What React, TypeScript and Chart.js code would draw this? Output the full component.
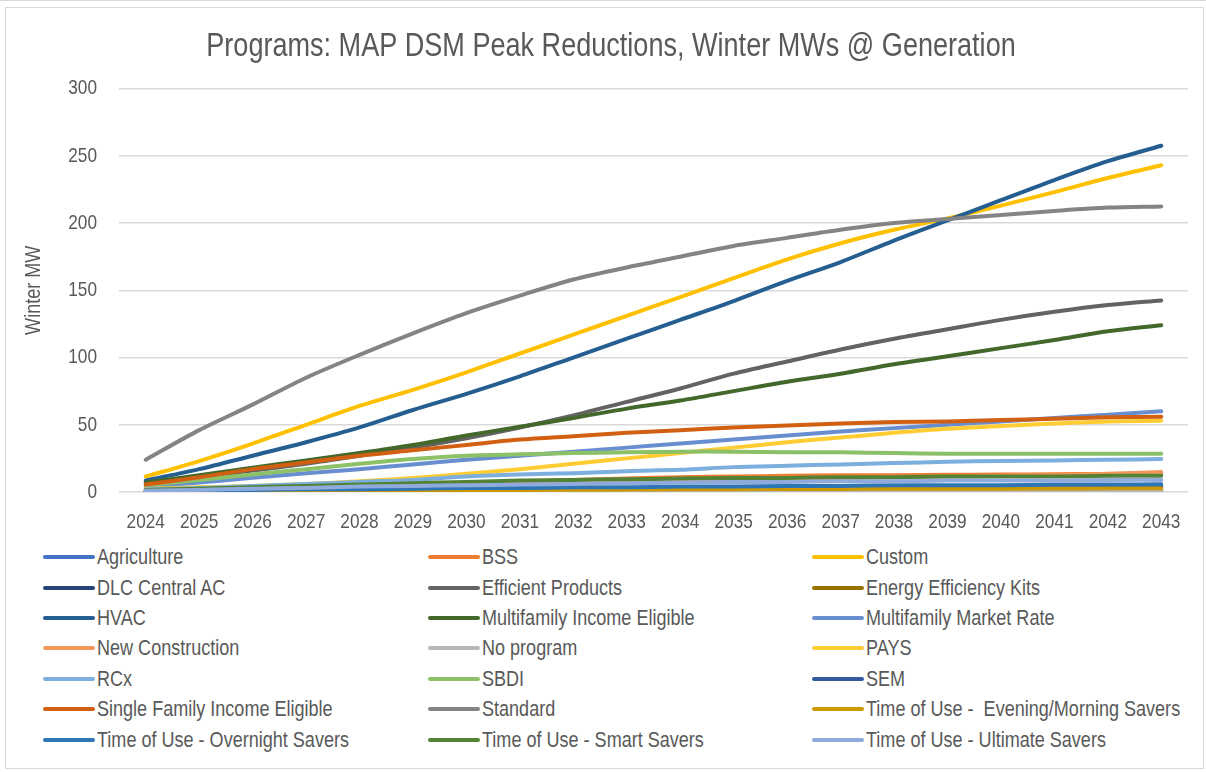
import React, { useEffect, useRef } from "react";
import { Chart, registerables } from "chart.js";

Chart.register(...registerables);

const FONT = "'Liberation Sans', Arial, sans-serif";
const TEXT = "#595959";
const NARROW = 0.82;

const chartTitle = "Programs: MAP DSM Peak Reductions, Winter MWs @ Generation";
const yAxisTitle = "Winter MW";
const yTicks = [0, 50, 100, 150, 200, 250, 300];

const years = [
  "2024", "2025", "2026", "2027", "2028", "2029", "2030", "2031", "2032", "2033",
  "2034", "2035", "2036", "2037", "2038", "2039", "2040", "2041", "2042", "2043",
];

const agriculture = [0.5, 0.8, 1, 1.2, 1.5, 1.7, 1.9, 2.1, 2.3, 2.5, 2.7, 2.8, 3, 3.1, 3.2, 3.3, 3.4, 3.5, 3.6, 3.7];
const bss = [1.5, 2.5, 3, 3.5, 4, 5, 6, 7.5, 9, 10, 11, 11.5, 12, 12.5, 12.5, 12.8, 13, 13.2, 13.4, 13.6];
const custom = [11.5, 23, 36, 50, 64, 76, 89, 103, 117, 131, 145, 159, 173, 185, 195, 203.5, 213, 223, 233.5, 243];
const dlcCentralAC = [0, 0, 0, 0, 0, 0, 0, 0, 0, 0, 0, 0, 0, 0, 0, 0, 0, 0, 0, 0];
const efficientProducts = [6.5, 11, 16, 21, 27, 33, 40, 48, 57, 67, 77, 88, 97, 106, 114, 121, 128, 134, 139, 142.5];
const energyEfficiencyKits = [0.4, 0.5, 0.6, 0.7, 0.8, 0.8, 0.9, 0.9, 1, 1, 1, 1, 1, 1, 1, 1, 1, 1, 1, 1];
const hvac = [8.5, 17, 27, 37, 48, 61, 73, 86, 100, 114, 128, 142, 157, 171, 187, 202, 217, 232, 246, 257.5];
const mfIncomeEligible = [7, 12.5, 18, 23.5, 29, 35, 42, 48.5, 55, 62, 68, 75, 82, 88, 95, 101, 107, 113, 119.5, 124];
const mfMarketRate = [4, 7, 10.5, 14, 17, 20.5, 24, 27, 30, 33, 36, 39, 42, 45, 47.5, 50, 52.5, 55, 57.5, 60];
const newConstruction = [1, 1.5, 2, 2.5, 3, 3.5, 4, 5, 6, 7, 8, 9, 10, 10.5, 11, 11.5, 12, 12.5, 13.5, 14.8];
const noProgram = [0.5, 0.6, 0.7, 0.8, 0.8, 0.9, 0.9, 1, 1, 1, 1, 0.5, 0.3, 0.3, 0.3, 0.3, 0.3, 0.3, 0.3, 0.3];
const pays = [2.5, 3.5, 4.5, 6, 8, 10.5, 13.5, 17, 21, 25, 29, 33, 37, 40.5, 44, 47, 49, 51, 52.5, 53];
const rcx = [2, 3, 4.5, 6, 7.5, 9, 11.5, 13, 14, 15.5, 16.5, 18.5, 19.5, 20.5, 21.5, 22.5, 23, 23.5, 24, 24.5];
const sbdi = [5, 9, 13, 17, 21, 24.5, 27, 28, 29, 29.5, 30, 30, 29.5, 29.5, 29, 28.5, 28.5, 28.5, 28.5, 28.5];
const sem = [0.3, 0.6, 0.9, 1.2, 1.5, 1.8, 2, 2.2, 2.4, 2.6, 2.8, 3, 3.2, 3.4, 3.5, 3.6, 3.7, 3.8, 3.9, 4];
const sfIncomeEligible = [5.5, 11, 17, 22, 27, 31, 35, 39, 41.5, 44, 46, 48, 49.5, 51, 52, 52.5, 53.5, 54.5, 55.5, 56];
const standard = [24, 46, 65, 85, 102, 118, 133, 146, 158, 167, 175, 183, 189, 195, 200, 203, 206, 209, 211.5, 212.4];
const touEveningMorning = [0.3, 0.5, 0.7, 0.9, 1, 1.2, 1.4, 1.5, 1.7, 1.8, 2, 2.1, 2.2, 2.3, 2.4, 2.5, 2.5, 2.6, 2.7, 2.7];
const touOvernight = [0.5, 1, 1.5, 2, 2, 2.5, 3, 3, 3.5, 3.5, 4, 4, 4.5, 4.5, 5, 5, 5, 5.5, 5.5, 5.7];
const touSmart = [1.5, 2.5, 3.5, 4.5, 5.5, 6.5, 7.5, 8.5, 9, 9.5, 10, 10.5, 10.5, 11, 11, 11.5, 11.5, 11.5, 12, 12];
const touUltimate = [1, 1.5, 2.5, 3, 4, 4.5, 5, 5.5, 6, 6.5, 7, 7.5, 7.5, 8, 8, 8.5, 8.5, 8.5, 9, 9];

const seriesNames = [
  "Agriculture", "BSS", "Custom",
  "DLC Central AC", "Efficient Products", "Energy Efficiency Kits",
  "HVAC", "Multifamily Income Eligible", "Multifamily Market Rate",
  "New Construction", "No program", "PAYS",
  "RCx", "SBDI", "SEM",
  "Single Family Income Eligible", "Standard", "Time of Use -  Evening/Morning Savers",
  "Time of Use - Overnight Savers", "Time of Use - Smart Savers", "Time of Use - Ultimate Savers",
];

const seriesValues = [
  agriculture, bss, custom,
  dlcCentralAC, efficientProducts, energyEfficiencyKits,
  hvac, mfIncomeEligible, mfMarketRate,
  newConstruction, noProgram, pays,
  rcx, sbdi, sem,
  sfIncomeEligible, standard, touEveningMorning,
  touOvernight, touSmart, touUltimate,
];

const seriesColors = [
  "#4472C4", "#ED7D31", "#FFC000",
  "#264478", "#636363", "#997300",
  "#255E91", "#43682B", "#698ED0",
  "#F1975A", "#B7B7B7", "#FFCD33",
  "#7CAFDD", "#8CC168", "#335AA1",
  "#D26012", "#848484", "#CC9A00",
  "#2E75B6", "#548235", "#8FAADC",
];

// Draw all chart text horizontally condensed (like a narrow typeface),
// keeping each label's anchor point in place.
const condensePlugin = {
  id: "condenseText",
  beforeInit(chart: any) {
    const ctx = chart.ctx as CanvasRenderingContext2D;
    const orig = ctx.fillText.bind(ctx);
    (ctx as any).fillText = (text: string, x: number, y: number, maxWidth?: number) => {
      ctx.save();
      ctx.translate(x, y);
      ctx.scale(NARROW, 1);
      if (maxWidth !== undefined && maxWidth !== null) orig(text, 0, 0, maxWidth / NARROW);
      else orig(text, 0, 0);
      ctx.restore();
    };
  },
};

function ChartCanvas() {
  const ref = useRef<HTMLCanvasElement | null>(null);
  useEffect(() => {
    if (!ref.current) return;
    const n = seriesNames.length;
    const chart = new Chart(ref.current, {
      type: "line",
      plugins: [condensePlugin],
      data: {
        labels: years,
        datasets: seriesNames.map((name, i) => ({
          label: name,
          data: seriesValues[i],
          borderColor: seriesColors[i],
          backgroundColor: seriesColors[i],
          borderWidth: 4,
          pointRadius: 0,
          tension: 0.3,
          borderCapStyle: "round" as const,
          borderJoinStyle: "round" as const,
          order: n - i,
        })),
      },
      options: {
        animation: false,
        responsive: true,
        maintainAspectRatio: false,
        layout: { padding: { left: 34, right: 18, top: 0, bottom: 0 } },
        plugins: {
          legend: { display: false },
          tooltip: { enabled: false },
          title: {
            display: true,
            text: chartTitle,
            color: TEXT,
            font: { family: FONT, size: 33, weight: "normal" },
            padding: { top: 27, bottom: 22 },
          },
        },
        scales: {
          x: {
            type: "category",
            offset: true,
            grid: { display: false, drawTicks: false },
            border: { display: false },
            ticks: { color: TEXT, font: { family: FONT, size: 21 }, padding: 18, maxRotation: 0, autoSkip: false },
            afterFit: (s: any) => { s.height = 48; },
          },
          y: {
            min: 0,
            max: 300,
            afterBuildTicks: (s: any) => { s.ticks = yTicks.map((v) => ({ value: v })); },
            grid: { color: "#D9D9D9", lineWidth: 1.5, drawTicks: false },
            border: { display: false },
            ticks: { color: TEXT, font: { family: FONT, size: 21 }, padding: 22 },
            title: {
              display: true,
              text: yAxisTitle,
              color: TEXT,
              font: { family: FONT, size: 22 },
              padding: { top: -13, bottom: 0 },
            },
            afterFit: (s: any) => { s.width = 85; },
          },
        },
      },
    });
    return () => chart.destroy();
  }, []);
  return <canvas ref={ref} />;
}

function Legend() {
  return (
    <div
      style={{
        position: "absolute",
        left: 43,
        top: 542,
        display: "grid",
        gridTemplateColumns: "384.5px 384.5px 384.5px",
        gridAutoRows: "30.4px",
        fontFamily: FONT,
        fontSize: 22,
        color: TEXT,
      }}
    >
      {seriesNames.map((name, i) => (
        <div key={name} style={{ display: "flex", alignItems: "center", whiteSpace: "pre" }}>
          <span
            style={{
              display: "inline-block",
              flex: "none",
              width: 52,
              height: 4,
              borderRadius: 2,
              background: seriesColors[i],
              marginRight: 2,
            }}
          />
          <span style={{ display: "inline-block", transform: `scaleX(${NARROW})`, transformOrigin: "left center" }}>
            {name}
          </span>
        </div>
      ))}
    </div>
  );
}

export default function App() {
  return (
    <div style={{ position: "absolute", left: 0, top: 0, width: 1206, height: 772, background: "#fff", overflow: "hidden" }}>
      <div style={{ position: "absolute", left: 0, top: 0, width: 1206, height: 1, background: "#D9D9D9" }} />
      <div
        style={{
          position: "absolute",
          left: 5,
          top: 7,
          width: 1199,
          height: 762,
          border: "1px solid #D9D9D9",
          boxSizing: "border-box",
        }}
      />
      <div style={{ position: "absolute", left: 0, top: 0, width: 1206, height: 540 }}>
        <ChartCanvas />
      </div>
      <Legend />
    </div>
  );
}
